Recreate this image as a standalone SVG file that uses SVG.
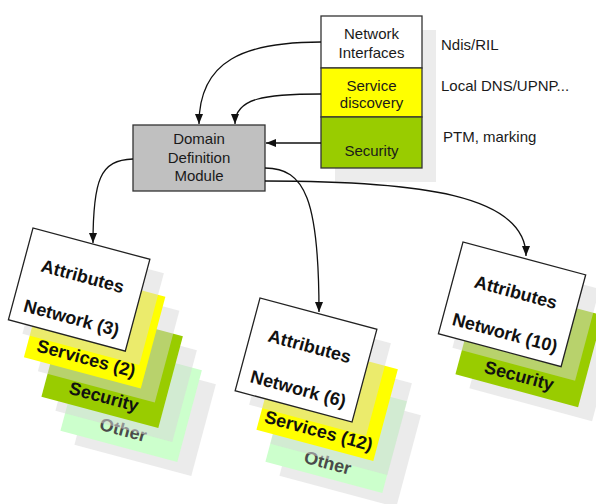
<svg xmlns="http://www.w3.org/2000/svg" width="596" height="504" viewBox="0 0 596 504">
  <defs>
    <marker id="arrow" viewBox="0 0 10 8" refX="10" refY="4" markerWidth="10" markerHeight="8" markerUnits="userSpaceOnUse" orient="auto">
      <path d="M0,0 L10,4 L0,8 z" fill="#111"/>
    </marker>
  </defs>
  <style>
    text { font-family: "Liberation Sans", Arial, sans-serif; }
    .lbl { font-size: 15px; fill: #1a1a1a; }
    .mid { text-anchor: middle; }
    .card { font-size: 18px; font-weight: bold; text-anchor: middle; fill: #111; }
    .dim { fill: #4a4a4a; }
    .edge { fill: none; stroke: #111; stroke-width: 1.3; marker-end: url(#arrow); }
    .box { stroke: #333; stroke-width: 1.3; }
    .shadow { fill: #d8d8d8; fill-opacity: 0.5; }
    .white { fill: #fff; stroke: #222; stroke-width: 1.3; }
    .yellow { fill: #ffff00; }
    .green { fill: #99cc00; }
    .mint { fill: #ccffcc; }
  </style>
  <rect width="596" height="504" fill="#fff"/>

  <!-- layered source stack -->
  <g id="source-stack">
    <rect x="335" y="30" width="101" height="152" fill="#ececec"/>
    <g id="network-interfaces">
      <rect class="box" x="321" y="16" width="101" height="52" fill="#fff"/>
      <text class="lbl mid" x="371.5" y="39">Network</text>
      <text class="lbl mid" x="371.5" y="58">Interfaces</text>
    </g>
    <g id="service-discovery">
      <rect class="box" x="321" y="68" width="101" height="49" fill="#ffff00"/>
      <text class="lbl mid" x="371.5" y="90.5">Service</text>
      <text class="lbl mid" x="371.5" y="107.5">discovery</text>
    </g>
    <g id="security-layer">
      <rect class="box" x="321" y="117" width="101" height="51" fill="#99cc00"/>
      <text class="lbl mid" x="371.5" y="156">Security</text>
    </g>
  </g>
  <text class="lbl" x="441" y="50">Ndis/RIL</text>
  <text class="lbl" x="441" y="90.5">Local DNS/UPNP...</text>
  <text class="lbl" x="443" y="142">PTM, marking</text>

  <!-- central module -->
  <g id="domain-definition-module">
    <rect class="box" x="133" y="125" width="132" height="66" fill="#c0c0c0"/>
    <text class="lbl mid" x="199" y="144">Domain</text>
    <text class="lbl mid" x="199" y="162.5">Definition</text>
    <text class="lbl mid" x="199" y="181">Module</text>
  </g>

  <!-- domain 1 -->
  <g id="domain-left">
    <rect class="shadow" transform="translate(99,353) rotate(15)" width="121" height="95"/>
    <g transform="translate(85,339) rotate(15)">
      <rect class="mint" width="121" height="95"/>
      <text class="card dim" x="60.5" y="84">Other</text>
    </g>
    <rect class="shadow" transform="translate(80,319) rotate(15)" width="121" height="95"/>
    <g transform="translate(66,305) rotate(15)">
      <rect class="green" width="121" height="95"/>
      <text class="card" x="60.5" y="85">Security</text>
    </g>
    <rect class="shadow" transform="translate(62.5,279.5) rotate(15)" width="121" height="95"/>
    <g transform="translate(48.5,265.5) rotate(15)">
      <rect class="yellow" width="121" height="95"/>
      <text class="card" x="60.5" y="86">Services (2)</text>
    </g>
    <rect class="shadow" transform="translate(47,242) rotate(15)" width="121" height="95"/>
    <g transform="translate(33,228) rotate(15)">
      <rect class="white" width="121" height="95"/>
      <text class="card" x="60.5" y="40">Attributes</text>
      <text class="card" x="60.5" y="83">Network (3)</text>
    </g>
  </g>

  <!-- domain 2 -->
  <g id="domain-middle">
    <rect class="shadow" transform="translate(304,384) rotate(15)" width="121" height="95"/>
    <g transform="translate(290,370) rotate(15)">
      <rect class="mint" width="121" height="95"/>
      <text class="card dim" x="60.5" y="86">Other</text>
    </g>
    <rect class="shadow" transform="translate(295,352) rotate(15)" width="121" height="95"/>
    <g transform="translate(281,338) rotate(15)">
      <rect class="yellow" width="121" height="95"/>
      <text class="card" x="60.5" y="86">Services (12)</text>
    </g>
    <rect class="shadow" transform="translate(274,312) rotate(15)" width="121" height="96"/>
    <g transform="translate(260,298) rotate(15)">
      <rect class="white" width="121" height="96"/>
      <text class="card" x="60.5" y="40">Attributes</text>
      <text class="card" x="60.5" y="84">Network (6)</text>
    </g>
  </g>

  <!-- domain 3 -->
  <g id="domain-right">
    <rect class="shadow" transform="translate(494,296.5) rotate(15)" width="127" height="95"/>
    <g transform="translate(480,282.5) rotate(15)">
      <rect class="green" width="127" height="95"/>
      <text class="card" x="62" y="86">Security</text>
    </g>
    <rect class="shadow" transform="translate(477,256) rotate(15)" width="127" height="95"/>
    <g transform="translate(463,242) rotate(15)">
      <rect class="white" width="127" height="95"/>
      <text class="card" x="64" y="41">Attributes</text>
      <text class="card" x="64" y="83">Network (10)</text>
    </g>
  </g>

  <!-- connectors -->
  <g id="connectors">
    <path class="edge" d="M321,42 C245,42 199,60 199,124"/>
    <path class="edge" d="M321,94 C265,94 235,98 235,124"/>
    <path class="edge" d="M321,143 L266,143"/>
    <path class="edge" d="M133,159 C100,160 93,180 93,243"/>
    <path class="edge" d="M265,168 C305,168 319,200 319,312"/>
    <path class="edge" d="M265,181 C420,181 526,195 526,256"/>
  </g>
</svg>
